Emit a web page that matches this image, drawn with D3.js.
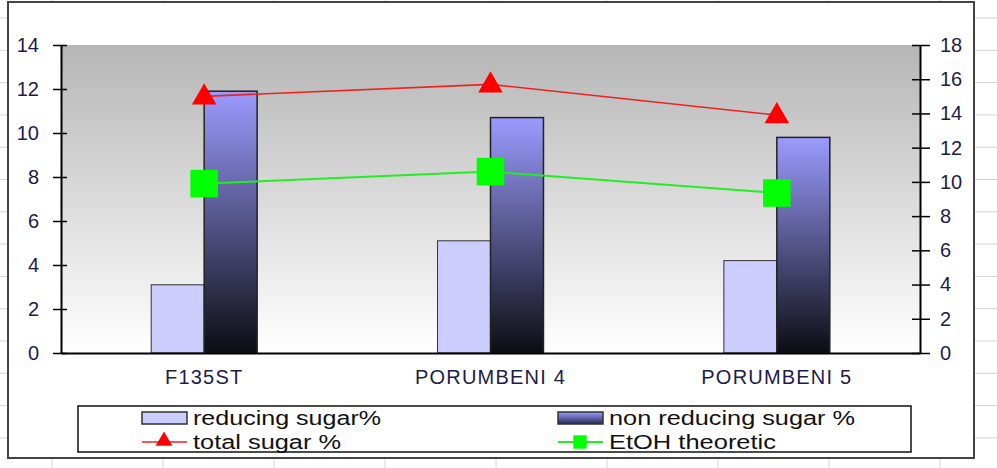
<!DOCTYPE html>
<html>
<head>
<meta charset="utf-8">
<script src="https://cdn.jsdelivr.net/npm/d3@7"></script>
<style>
  body { margin: 0; background: #fff; }
  text { font-family: "Liberation Sans", Arial, sans-serif; }
</style>
</head>
<body>
<svg id="drawing_region"></svg>
<script>
const categories = [ "F135ST", "PORUMBENI 4", "PORUMBENI 5" ];
const reducingSugar = [ 3.1, 5.1, 4.2 ];
const nonReducingSugar = [ 11.9, 10.7, 9.8 ];
const totalSugar = [ 15.0, 15.7, 13.9 ];
const etohTheoretic = [ 9.9, 10.6, 9.35 ];
const leftTicks = [ 0, 2, 4, 6, 8, 10, 12, 14 ];
const rightTicks = [ 0, 2, 4, 6, 8, 10, 12, 14, 16, 18 ];
const legendLabels = [ "reducing sugar%", "non reducing sugar %", "total sugar %", "EtOH theoretic" ];

const width = 997, height = 468;
const plot = { left: 61, right: 920, top: 45, bottom: 353 };

const svg = d3.select( "#drawing_region" )
    .attr( "width", width )
    .attr( "height", height );

// spreadsheet grid behind the chart
const bg = svg.append( "g" );
bg.selectAll( "line.h" )
    .data( d3.range( 18, height, 32.3 ) )
    .enter().append( "line" )
    .attr( "x1", 0 ).attr( "x2", width )
    .attr( "y1", d => d ).attr( "y2", d => d )
    .attr( "stroke", "#d4d4d4" );
bg.selectAll( "line.v" )
    .data( d3.range( 52, width, 111 ) )
    .enter().append( "line" )
    .attr( "x1", d => d ).attr( "x2", d => d )
    .attr( "y1", 0 ).attr( "y2", height )
    .attr( "stroke", "#d4d4d4" );

// chart frame
svg.append( "rect" )
    .attr( "x", 8 ).attr( "y", 2 )
    .attr( "width", 966 ).attr( "height", 456 )
    .attr( "fill", "#fff" )
    .attr( "stroke", "#444" )
    .attr( "stroke-width", 2 );

const defs = svg.append( "defs" );
const bgGrad = defs.append( "linearGradient" )
    .attr( "id", "plotBg" ).attr( "x1", 0 ).attr( "y1", 0 ).attr( "x2", 0 ).attr( "y2", 1 );
bgGrad.append( "stop" ).attr( "offset", "0%" ).attr( "stop-color", "#b6b6b6" );
bgGrad.append( "stop" ).attr( "offset", "100%" ).attr( "stop-color", "#ffffff" );

const barGrad = defs.append( "linearGradient" )
    .attr( "id", "barGrad" ).attr( "x1", 0 ).attr( "y1", 0 ).attr( "x2", 0 ).attr( "y2", 1 );
barGrad.append( "stop" ).attr( "offset", "0%" ).attr( "stop-color", "#9b9bff" );
barGrad.append( "stop" ).attr( "offset", "100%" ).attr( "stop-color", "#0c0c12" );

const legGrad = defs.append( "linearGradient" )
    .attr( "id", "legGrad" ).attr( "x1", 0 ).attr( "y1", 0 ).attr( "x2", 0 ).attr( "y2", 1 );
legGrad.append( "stop" ).attr( "offset", "0%" ).attr( "stop-color", "#9b9bff" );
legGrad.append( "stop" ).attr( "offset", "100%" ).attr( "stop-color", "#2a2a55" );

svg.append( "rect" )
    .attr( "x", plot.left ).attr( "y", plot.top )
    .attr( "width", plot.right - plot.left ).attr( "height", plot.bottom - plot.top )
    .attr( "fill", "url(#plotBg)" );

// scales
const x0 = d3.scaleBand()
    .domain( categories )
    .range( [ plot.left, plot.right ] )
    .paddingInner( 0.63 )
    .paddingOuter( 0.315 );

const x1 = d3.scaleBand()
    .domain( [ "reducing", "nonReducing" ] )
    .range( [ 0, x0.bandwidth() ] );

const yLeft = d3.scaleLinear().domain( [ 0, 14 ] ).range( [ plot.bottom, plot.top ] );
const yRight = d3.scaleLinear().domain( [ 0, 18 ] ).range( [ plot.bottom, plot.top ] );

const barData = categories.map( ( c, i ) => ( { cat: c, reducing: reducingSugar[i], nonReducing: nonReducingSugar[i] } ) );

// bars
const groups = svg.append( "g" ).selectAll( "g" )
    .data( barData )
    .enter().append( "g" )
    .attr( "transform", d => `translate(${x0( d.cat )},0)` );

groups.append( "rect" )
    .attr( "x", x1( "reducing" ) )
    .attr( "y", d => yLeft( d.reducing ) )
    .attr( "width", x1.bandwidth() )
    .attr( "height", d => plot.bottom - yLeft( d.reducing ) )
    .attr( "fill", "#ccccff" )
    .attr( "stroke", "#333" )
    .attr( "stroke-width", 1 );

groups.append( "rect" )
    .attr( "x", x1( "nonReducing" ) )
    .attr( "y", d => yLeft( d.nonReducing ) )
    .attr( "width", x1.bandwidth() )
    .attr( "height", d => plot.bottom - yLeft( d.nonReducing ) )
    .attr( "fill", "url(#barGrad)" )
    .attr( "stroke", "#222" )
    .attr( "stroke-width", 1.5 );

// axes
const tickColor = "#1c1c48";

const leftAxis = d3.axisLeft( yLeft ).tickValues( leftTicks ).tickSize( 0 ).tickPadding( 22 );
const gl = svg.append( "g" ).attr( "transform", `translate(${plot.left},0)` ).call( leftAxis );
gl.select( ".domain" ).attr( "stroke", "#000" ).attr( "stroke-width", 2 );
gl.selectAll( ".tick" ).append( "line" ).attr( "x1", -8 ).attr( "x2", 6 ).attr( "stroke", "#000" ).attr( "stroke-width", 1.5 );
gl.selectAll( ".tick text" ).attr( "font-size", 20 ).attr( "fill", tickColor );

const rightAxis = d3.axisRight( yRight ).tickValues( rightTicks ).tickSize( 0 ).tickPadding( 20 );
const gr = svg.append( "g" ).attr( "transform", `translate(${plot.right},0)` ).call( rightAxis );
gr.select( ".domain" ).attr( "stroke", "#000" ).attr( "stroke-width", 2 );
gr.selectAll( ".tick" ).append( "line" ).attr( "x1", -8 ).attr( "x2", 10 ).attr( "stroke", "#000" ).attr( "stroke-width", 1.5 );
gr.selectAll( ".tick text" ).attr( "font-size", 20 ).attr( "fill", tickColor );

const bottomAxis = d3.axisBottom( x0 ).tickSize( 0 ).tickPadding( 17 );
const gb = svg.append( "g" ).attr( "transform", `translate(0,${plot.bottom})` ).call( bottomAxis );
gb.select( ".domain" ).attr( "stroke", "#000" ).attr( "stroke-width", 2 );
gb.selectAll( ".tick text" ).attr( "font-size", 20 ).attr( "letter-spacing", 1.2 ).attr( "fill", tickColor );

// lines
const cx = c => x0( c ) + x0.bandwidth() / 2;
const lineGen = d3.line().x( d => cx( d.cat ) ).y( d => yRight( d.v ) );
const totalData = categories.map( ( c, i ) => ( { cat: c, v: totalSugar[i] } ) );
const etohData = categories.map( ( c, i ) => ( { cat: c, v: etohTheoretic[i] } ) );

svg.append( "path" ).datum( etohData )
    .attr( "d", lineGen ).attr( "fill", "none" )
    .attr( "stroke", "#22ee22" ).attr( "stroke-width", 2 );
svg.append( "path" ).datum( totalData )
    .attr( "d", lineGen ).attr( "fill", "none" )
    .attr( "stroke", "#ee2222" ).attr( "stroke-width", 1.6 );

const tri = d3.symbol().type( d3.symbolTriangle ).size( 260 );
const sq = d3.symbol().type( d3.symbolSquare ).size( 760 );

svg.append( "g" ).selectAll( "path" )
    .data( etohData ).enter().append( "path" )
    .attr( "d", sq )
    .attr( "transform", d => `translate(${cx( d.cat )},${yRight( d.v )})` )
    .attr( "fill", "#00ff00" );

svg.append( "g" ).selectAll( "path" )
    .data( totalData ).enter().append( "path" )
    .attr( "d", tri )
    .attr( "transform", d => `translate(${cx( d.cat )},${yRight( d.v ) + 1})` )
    .attr( "fill", "#ff0000" );

// legend
const legend = svg.append( "g" );
legend.append( "rect" )
    .attr( "x", 78 ).attr( "y", 406 )
    .attr( "width", 833 ).attr( "height", 46 )
    .attr( "fill", "#fff" ).attr( "stroke", "#111" ).attr( "stroke-width", 1.5 );

const legendPos = [
    { x: 142, y: 418, w: 188 },
    { x: 558, y: 418, w: 246 },
    { x: 142, y: 442, w: 148 },
    { x: 558, y: 442, w: 167 }
];

legend.append( "rect" ).attr( "x", legendPos[0].x ).attr( "y", legendPos[0].y - 6 )
    .attr( "width", 45 ).attr( "height", 12 )
    .attr( "fill", "#ccccff" ).attr( "stroke", "#333" ).attr( "stroke-width", 1.5 );
legend.append( "rect" ).attr( "x", legendPos[1].x ).attr( "y", legendPos[1].y - 6 )
    .attr( "width", 45 ).attr( "height", 12 )
    .attr( "fill", "url(#legGrad)" ).attr( "stroke", "#333" ).attr( "stroke-width", 1.5 );

legend.append( "line" ).attr( "x1", legendPos[2].x ).attr( "x2", legendPos[2].x + 45 )
    .attr( "y1", legendPos[2].y ).attr( "y2", legendPos[2].y )
    .attr( "stroke", "#ee2222" ).attr( "stroke-width", 1.6 );
legend.append( "path" ).attr( "d", d3.symbol().type( d3.symbolTriangle ).size( 120 ) )
    .attr( "transform", `translate(${legendPos[2].x + 22},${legendPos[2].y - 1})` )
    .attr( "fill", "#ff0000" );

legend.append( "line" ).attr( "x1", legendPos[3].x ).attr( "x2", legendPos[3].x + 45 )
    .attr( "y1", legendPos[3].y ).attr( "y2", legendPos[3].y )
    .attr( "stroke", "#22ee22" ).attr( "stroke-width", 2 );
legend.append( "path" ).attr( "d", d3.symbol().type( d3.symbolSquare ).size( 180 ) )
    .attr( "transform", `translate(${legendPos[3].x + 22},${legendPos[3].y})` )
    .attr( "fill", "#00ff00" );

legend.selectAll( "text" )
    .data( legendLabels ).enter().append( "text" )
    .attr( "x", ( d, i ) => legendPos[i].x + 51 )
    .attr( "y", ( d, i ) => legendPos[i].y )
    .attr( "dy", "0.35em" )
    .attr( "font-size", 20 )
    .attr( "fill", "#111" )
    .attr( "textLength", ( d, i ) => legendPos[i].w )
    .attr( "lengthAdjust", "spacingAndGlyphs" )
    .text( d => d );
</script>
</body>
</html>
